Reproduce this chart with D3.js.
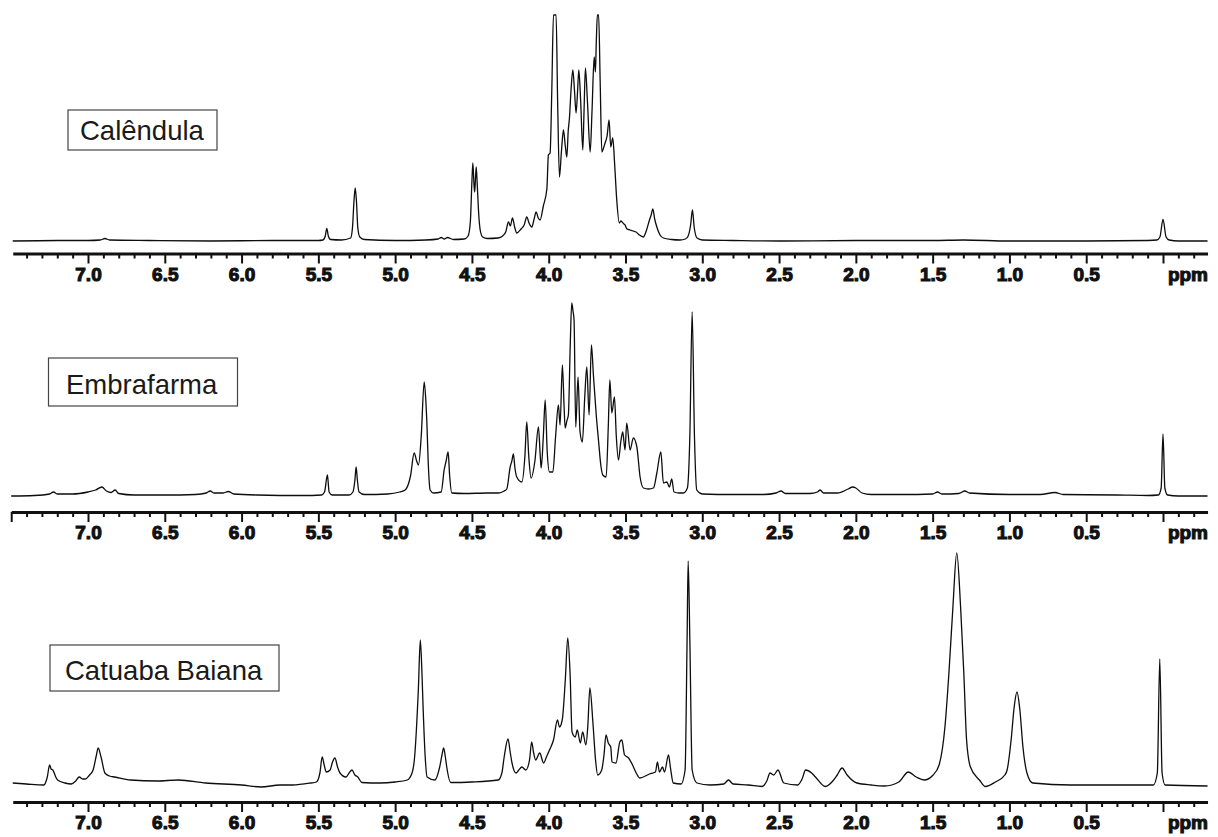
<!DOCTYPE html>
<html><head><meta charset="utf-8">
<script src="https://cdn.jsdelivr.net/npm/d3@7"></script>
<style>body{margin:0;background:#fff}svg{display:block}</style>
</head><body><svg id="c" width="1218" height="837"></svg>
<script>
// [ppm, intensity (a.u.)]
const calendula = [[7.49,0],[7.2,0.5],[7.0,0.5],[6.92,1],[6.89,2.5],[6.86,1],[6.6,0.5],[6.2,0],[5.8,0.5],[5.5,0.5],[5.47,1],[5.455,5],[5.445,12.7],[5.435,5],[5.42,1.5],[5.35,1],[5.29,3],[5.278,13],[5.268,40],[5.26,53],[5.252,40],[5.243,13],[5.23,4],[5.2,1.5],[5.0,0.5],[4.8,1],[4.72,2],[4.70,3.5],[4.68,2],[4.66,3.5],[4.62,1.5],[4.55,2],[4.525,5],[4.51,20],[4.50,60],[4.494,78],[4.486,55],[4.482,49],[4.477,62],[4.472,74],[4.465,55],[4.455,25],[4.445,10],[4.43,4],[4.40,2.5],[4.33,3],[4.30,5],[4.28,9],[4.262,19],[4.25,15],[4.236,23],[4.222,14],[4.208,8],[4.18,12],[4.16,16],[4.143,24],[4.128,18],[4.110,14],[4.095,22],[4.082,29],[4.068,23],[4.056,21],[4.035,35],[4.012,52],[4.002,86],[3.991,88],[3.980,150],[3.969,226],[3.952,226],[3.942,140],[3.930,64],[3.917,90],[3.904,111],[3.892,95],[3.882,84],[3.873,110],[3.865,123],[3.855,150],[3.843,171],[3.832,150],[3.822,128],[3.812,150],[3.804,171],[3.792,140],[3.778,91],[3.770,130],[3.761,173],[3.748,140],[3.730,89],[3.718,130],[3.704,184],[3.696,169],[3.690,200],[3.683,226],[3.675,226],[3.665,160],[3.654,89],[3.643,93],[3.633,98],[3.620,105],[3.607,121],[3.596,94],[3.583,103],[3.570,75],[3.557,41],[3.540,18],[3.530,20],[3.522,19],[3.51,17],[3.503,16],[3.49,12],[3.470,11],[3.45,10],[3.431,9],[3.41,6],[3.384,4],[3.365,10],[3.344,21],[3.333,26],[3.322,32],[3.31,22],[3.296,14],[3.275,6],[3.253,3],[3.2,1.5],[3.145,1],[3.11,2],[3.092,5],[3.076,16],[3.064,31],[3.053,14],[3.034,3],[3.0,1],[2.8,0.5],[2.5,0],[2.0,0.5],[1.5,0.5],[1.3,1],[1.0,0],[0.5,0],[0.1,0.5],[0.04,1],[0.02,4],[0.0,21.7],[-0.02,4],[-0.04,1],[-0.1,0],[-0.29,0]];

const embrafarma = [[7.5,0],[7.35,0.5],[7.25,2],[7.225,4],[7.20,2],[7.1,2],[7.0,4],[6.95,6],[6.91,9],[6.88,5],[6.85,3.5],[6.823,6],[6.80,2.5],[6.7,1],[6.5,1],[6.3,1.5],[6.23,3],[6.204,5],[6.18,3],[6.12,3],[6.087,4.5],[6.05,2],[5.9,1],[5.6,0.5],[5.48,1],[5.46,4],[5.441,21],[5.43,4],[5.41,1],[5.3,1],[5.275,4],[5.262,16],[5.254,29],[5.246,16],[5.235,4],[5.2,1.5],[5.05,2],[4.97,4],[4.935,6],[4.90,20],[4.876,43],[4.86,35],[4.848,31],[4.83,60],[4.811,114],[4.80,95],[4.794,76],[4.785,35],[4.772,6],[4.75,3],[4.70,4],[4.681,26],[4.668,35],[4.655,44],[4.645,20],[4.631,3],[4.55,2.5],[4.40,3],[4.327,3],[4.29,5],[4.273,7],[4.251,29],[4.240,35],[4.230,42],[4.220,28],[4.208,19],[4.175,14],[4.155,40],[4.143,74],[4.130,40],[4.115,18],[4.09,35],[4.067,69],[4.055,40],[4.049,28],[4.035,60],[4.023,96],[4.010,45],[3.995,24],[3.985,24],[3.973,24],[3.955,60],[3.937,91],[3.926,71],[3.911,131],[3.900,90],[3.893,68],[3.882,75],[3.872,81],[3.860,150],[3.850,193],[3.842,185],[3.835,176],[3.824,69],[3.809,119],[3.796,64],[3.781,54],[3.765,100],[3.752,129],[3.737,81],[3.722,151],[3.709,121],[3.690,80],[3.676,56],[3.660,30],[3.648,21],[3.626,19],[3.612,70],[3.602,116],[3.589,83],[3.572,99],[3.560,60],[3.546,36],[3.530,55],[3.518,64],[3.503,46],[3.492,73],[3.470,46],[3.449,58],[3.426,49],[3.405,19],[3.383,8],[3.35,7],[3.318,8],[3.296,23],[3.270,44],[3.253,13],[3.231,14],[3.214,9],[3.199,17],[3.184,4],[3.15,3],[3.123,3],[3.097,8],[3.081,60],[3.066,184],[3.051,60],[3.036,6],[3.0,2],[2.8,1.5],[2.6,1.5],[2.52,3],[2.487,5],[2.46,2.5],[2.30,2.5],[2.25,4],[2.233,6],[2.21,3],[2.12,3],[2.05,7],[2.02,9],[2.00,8],[1.96,3],[1.9,1.5],[1.7,1.5],[1.5,2],[1.468,4],[1.44,2],[1.33,2.5],[1.29,5],[1.26,3],[1.0,1.5],[0.8,1.5],[0.703,3.5],[0.65,1.5],[0.3,1],[0.1,0.5],[0.03,1],[0.012,8],[0.0,62],[-0.012,8],[-0.03,1],[-0.1,0],[-0.29,0]];

const catuaba = [[7.49,2],[7.40,1],[7.288,0],[7.265,8],[7.25,20],[7.24,16],[7.229,15],[7.21,8],[7.198,5],[7.15,2],[7.109,1],[7.08,4],[7.057,8],[7.035,6],[7.018,6],[6.99,10],[6.967,15],[6.945,30],[6.934,37],[6.915,28],[6.89,12],[6.86,9],[6.826,8],[6.723,5],[6.55,4],[6.413,5],[6.234,2],[6.0,0],[5.873,-2],[5.75,0],[5.667,0],[5.55,2],[5.513,3],[5.49,12],[5.475,28],[5.462,20],[5.449,13],[5.423,15],[5.41,22],[5.392,27],[5.375,18],[5.359,12],[5.32,8],[5.30,12],[5.281,15],[5.262,10],[5.243,8],[5.217,2.5],[5.1,2],[5.0,3],[4.921,5],[4.89,12],[4.875,25],[4.849,95],[4.836,145],[4.825,110],[4.818,78],[4.805,30],[4.792,8],[4.741,5],[4.71,18],[4.695,30],[4.684,37],[4.673,28],[4.664,18],[4.638,2.5],[4.5,3],[4.329,5],[4.305,12],[4.290,28],[4.265,46],[4.250,32],[4.239,22],[4.213,12],[4.195,15],[4.175,18],[4.149,15],[4.125,25],[4.111,43],[4.098,32],[4.085,25],[4.059,32],[4.033,22],[4.015,28],[3.995,35],[3.969,45],[3.943,65],[3.930,58],[3.912,65],[3.892,105],[3.876,147],[3.861,112],[3.848,53],[3.827,48],[3.814,55],[3.794,42],[3.779,53],[3.758,40],[3.745,60],[3.732,97],[3.712,62],[3.695,25],[3.681,10],[3.655,15],[3.640,30],[3.627,50],[3.612,42],[3.596,38],[3.588,23],[3.562,22],[3.537,43],[3.524,45],[3.506,30],[3.480,27],[3.454,20],[3.430,12],[3.408,7],[3.344,11],[3.305,13],[3.292,23],[3.279,13],[3.259,18],[3.246,13],[3.220,30],[3.207,17],[3.189,2],[3.138,1],[3.112,15],[3.099,145],[3.092,224],[3.081,145],[3.066,15],[3.035,2],[2.95,0],[2.86,1],[2.829,5],[2.80,1],[2.70,0],[2.611,-1.5],[2.58,4],[2.559,12],[2.535,10],[2.507,15],[2.469,2],[2.379,0],[2.35,6],[2.327,15],[2.288,12],[2.263,8],[2.199,-1.5],[2.15,4],[2.121,10],[2.090,17],[2.057,10],[1.993,2],[1.9,0],[1.813,-1],[1.72,3],[1.658,13],[1.607,8],[1.555,5],[1.497,10],[1.458,20],[1.420,58],[1.394,112],[1.368,178],[1.343,232],[1.318,178],[1.297,112],[1.279,45],[1.254,18],[1.195,5],[1.156,-1.5],[1.092,3],[1.030,10],[1.015,15],[0.989,45],[0.969,78],[0.951,93],[0.932,75],[0.912,38],[0.886,12],[0.848,2],[0.6,0],[0.3,0],[0.063,0],[0.037,12],[0.021,126],[0.006,12],[-0.014,0],[-0.29,-1]];

const sampleNames = ["Calêndula", "Embrafarma", "Catuaba Baiana"];
const majorTicks = [7.0, 6.5, 6.0, 5.5, 5.0, 4.5, 4.0, 3.5, 3.0, 2.5, 2.0, 1.5, 1.0, 0.5, 0.0];
const majorLabels = ["7.0", "6.5", "6.0", "5.5", "5.0", "4.5", "4.0", "3.5", "3.0", "2.5", "2.0", "1.5", "1.0", "0.5", ""];
const unitLabel = "ppm";

const spectra = [calendula, embrafarma, catuaba];

// layout
const panels = [
  {base: 241, axisY: 253.5, left: 7.49, edgeTick: false, box: {x: 68, y: 110, w: 149, h: 40}, tx: 80, ty: 139.5},
  {base: 496, axisY: 512, left: 7.5, edgeTick: true, box: {x: 48.5, y: 358, w: 189, h: 48}, tx: 66, ty: 393.5},
  {base: 785, axisY: 802, left: 7.49, edgeTick: false, box: {x: 50, y: 645, w: 229, h: 46}, tx: 65, ty: 680}
];

const svg = d3.select("#c");
svg.append("rect").attr("width", 1218).attr("height", 837).attr("fill", "#fff");

const x = d3.scaleLinear().domain([7, 0]).range([88, 1163]);
const minorTicks = d3.range(-2, 75).map(i => i / 10).filter(v => Math.round(v * 10) % 5 !== 0);
const tickFont = "'Liberation Sans', Arial, sans-serif";

panels.forEach((p, i) => {
  const g = svg.append("g");
  const y = d3.scaleLinear().domain([0, 100]).range([p.base, p.base - 100]);
  const line = d3.line().x(d => x(d[0])).y(d => y(d[1])).curve(d3.curveMonotoneX);
  g.append("path").datum(spectra[i].slice().sort((a, b) => b[0] - a[0]))
    .attr("d", line).attr("fill", "none").attr("stroke", "#0d0d0d")
    .attr("stroke-width", 1.3).attr("stroke-linejoin", "round");

  const xa = x.copy().domain([p.left, -0.29]).range([x(p.left), x(-0.29)]);
  const minorAxis = d3.axisBottom(xa).tickValues(minorTicks.filter(v => v < p.left - 0.01))
    .tickSize(5).tickSizeOuter(0).tickFormat("");
  const gm = g.append("g").attr("transform", `translate(0,${p.axisY})`).call(minorAxis);
  gm.select(".domain").attr("stroke", "#111").attr("stroke-width", 3);
  gm.selectAll(".tick line").attr("stroke", "#111").attr("stroke-width", 2);

  const tv = p.edgeTick ? [p.left].concat(majorTicks) : majorTicks;
  const majorAxis = d3.axisBottom(xa).tickValues(tv).tickSize(10).tickSizeOuter(0).tickPadding(4)
    .tickFormat(v => { const k = majorTicks.indexOf(v); return k >= 0 ? majorLabels[k] : ""; });
  const ga = g.append("g").attr("transform", `translate(0,${p.axisY})`).call(majorAxis);
  ga.select(".domain").remove();
  ga.selectAll(".tick line").attr("stroke", "#111").attr("stroke-width", 2);
  ga.selectAll(".tick text").attr("fill", "#111").attr("stroke", "#111").attr("stroke-width", 1.1)
    .style("font-family", tickFont).style("font-weight", "bold").style("font-size", "19px");

  g.append("text").attr("x", 1208).attr("y", p.axisY + 27).attr("text-anchor", "end")
    .style("font-family", tickFont).style("font-weight", "bold").style("font-size", "19px")
    .attr("fill", "#111").attr("stroke", "#111").attr("stroke-width", 1.1).text(unitLabel);

  g.append("rect").attr("x", p.box.x).attr("y", p.box.y).attr("width", p.box.w).attr("height", p.box.h)
    .attr("fill", "#fff").attr("stroke", "#444").attr("stroke-width", 1.2);
  g.append("text").attr("x", p.tx).attr("y", p.ty)
    .style("font-family", "'Liberation Sans', Arial, sans-serif").style("font-size", "27.5px")
    .attr("fill", "#1a1a1a").text(sampleNames[i]);
});
</script></body></html>
